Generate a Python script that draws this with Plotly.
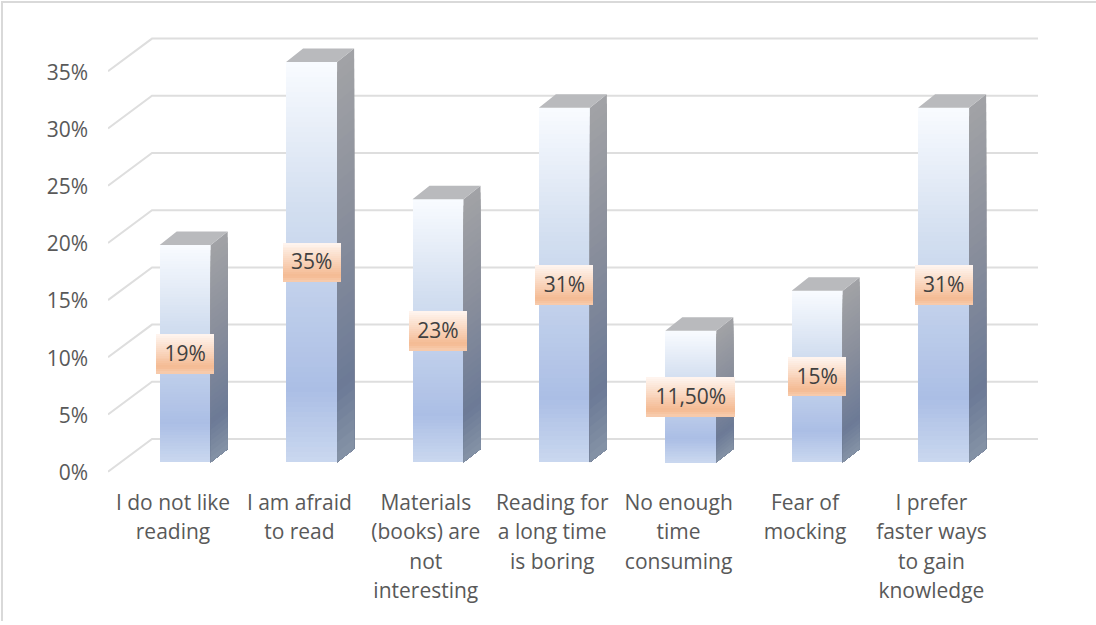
import plotly.graph_objects as go

categories = ["I do not like reading", "I am afraid to read", "Materials (books) are not interesting",
              "Reading for a long time is boring", "No enough time consuming", "Fear of mocking",
              "I prefer faster ways to gain knowledge"]
wrapped = [["I do not like", "reading"], ["I am afraid", "to read"],
           ["Materials", "(books) are", "not", "interesting"],
           ["Reading for", "a long time", "is boring"], ["No enough", "time", "consuming"],
           ["Fear of", "mocking"], ["I prefer", "faster ways", "to gain", "knowledge"]]
values = [19, 35, 23, 31, 11.5, 15, 31]
value_labels = ["19%", "35%", "23%", "31%", "11,50%", "15%", "31%"]
y_ticks = [0, 5, 10, 15, 20, 25, 30, 35]

W, H = 1096, 625
PX_CAT, PX_PCT = 126.4, 11.44
X0, Y_WALL, Y_BAR = 173.0, 471.7, 462.3
L, R, T, B = 108, 1040, 30, 480
x_of = lambda px: (px - X0) / PX_CAT
bar_shift = (185.2 - X0) / PX_CAT
bar_w = 51 / PX_CAT
dx, dy = 17 / PX_CAT, 13.4 / PX_PCT
N_FRONT, N_SIDE = 80, 40

FRONT = [(0, (249, 251, 255)), (.36, (211, 223, 240)), (.82, (171, 190, 229)), (1, (202, 216, 239))]
SIDE = [(0, (162, 163, 166)), (.4, (138, 143, 156)), (.82, (108, 122, 150)), (1, (133, 147, 166))]
LABEL = [(0, (255, 246, 241)), (.85, (244, 186, 146)), (1, (248, 205, 176))]


def grad(stops, f):
    for (a, ca), (b, cb) in zip(stops, stops[1:]):
        if f <= b:
            t = (f - a) / (b - a)
            return "rgb(%d,%d,%d)" % tuple(round(p + (q - p) * t) for p, q in zip(ca, cb))
    return "rgb(%d,%d,%d)" % stops[-1][1]


fig = go.Figure()

gx, gy = [], []
for t in y_ticks:
    gx += [x_of(108), x_of(152), x_of(1038), None]
    gy += [t, t + (Y_WALL - 439) / PX_PCT, t + (Y_WALL - 439) / PX_PCT, None]
fig.add_trace(go.Scatter(x=gx, y=gy, mode="lines", line=dict(color="#dedede", width=2), hoverinfo="skip",
                         showlegend=False, yaxis="y"))

fx, fh, fc = [], [], []
for i, v in enumerate(values):
    for k in range(N_FRONT):
        fx.append(i + bar_shift)
        fh.append(v * (N_FRONT - k) / N_FRONT)
        fc.append(grad(FRONT, (k + .5) / N_FRONT))
fig.add_trace(go.Bar(x=fx, y=fh, width=bar_w, marker=dict(color=fc, line=dict(width=0)),
                     hoverinfo="skip", showlegend=False, yaxis="y2"))

for i, v in enumerate(values):
    xr = i + bar_shift + bar_w / 2
    for k in range(N_SIDE):
        hi = v * (N_SIDE - k) / N_SIDE
        c = grad(SIDE, (k + .5) / N_SIDE)
        fig.add_trace(go.Scatter(x=[xr, xr + dx, xr + dx, xr, xr], y=[0, dy, hi + dy, hi, 0], mode="lines",
                                 fill="toself", fillcolor=c, line=dict(width=0), hoverinfo="skip",
                                 showlegend=False, yaxis="y2"))

tx, ty = [], []
for i, v in enumerate(values):
    xl, xr = i + bar_shift - bar_w / 2, i + bar_shift + bar_w / 2
    tx += [xl, xl + dx, xr + dx, xr, xl, None]
    ty += [v, v + dy, v + dy, v, v, None]
fig.add_trace(go.Scatter(x=tx, y=ty, mode="lines", fill="toself", fillcolor="#b9babd", line=dict(width=0),
                         hoverinfo="skip", showlegend=False, yaxis="y2"))

box_h = 39 / PX_PCT
M = 20
lx, lbase, lh, lw, lc = [], [], [], [], []
for i, (v, s) in enumerate(zip(values, value_labels)):
    for k in range(M):
        lx.append(i + bar_shift)
        lbase.append(v / 2 + box_h / 2 - box_h * (k + 1) / M)
        lh.append(box_h / M)
        lw.append((89 if len(s) > 3 else 58) / PX_CAT)
        lc.append(grad(LABEL, (k + .5) / M))
fig.add_trace(go.Bar(x=lx, y=lh, base=lbase, width=lw, marker=dict(color=lc, line=dict(width=0)),
                     hoverinfo="skip", showlegend=False, yaxis="y3"))
text_nudge = 2 / PX_PCT
fig.add_trace(go.Scatter(x=[i + bar_shift for i in range(len(values))], y=[v / 2 - text_nudge for v in values],
                         mode="text", text=value_labels, textposition="middle center",
                         textfont=dict(family="Open Sans", size=21, color="#404040"),
                         hoverinfo="skip", showlegend=False, yaxis="y3"))

ticktext = ["<br>".join('<span style="font-size:21px">%s</span>' % s for s in lines) for lines in wrapped]
y_range_main = [(Y_WALL - B) / PX_PCT, (Y_WALL - T) / PX_PCT]
y_range_bar = [(Y_BAR - B) / PX_PCT, (Y_BAR - T) / PX_PCT]
hidden = dict(overlaying="y", domain=[(H - B) / H, (H - T) / H], range=y_range_bar, visible=False, fixedrange=True)

fig.update_layout(
    width=W, height=H, margin=dict(l=0, r=0, t=0, b=0), autosize=False,
    paper_bgcolor="white", plot_bgcolor="rgba(0,0,0,0)", barmode="overlay", bargap=0, showlegend=False,
    font=dict(family="Open Sans", color="#595959"),
    xaxis=dict(domain=[L / W, R / W], range=[x_of(L), x_of(R)], tickmode="array", automargin=False,
               tickvals=list(range(len(categories))), ticktext=ticktext, showgrid=False, zeroline=False,
               showline=False, ticks="", tickangle=0, tickfont=dict(family="Open Sans", size=22.7, color="#595959"),
               ticklabelstandoff=6, fixedrange=True),
    yaxis=dict(domain=[(H - B) / H, (H - T) / H], range=y_range_main, tickmode="array", tickvals=y_ticks,
               automargin=False, ticktext=["%d%%" % t for t in y_ticks], showgrid=False, zeroline=False,
               showline=False, ticks="", tickfont=dict(family="Open Sans", size=21, color="#595959"),
               ticklabelstandoff=19, ticklabelshift=1, fixedrange=True),
    yaxis2=hidden, yaxis3=hidden,
    shapes=[
        dict(type="line", xref="paper", yref="paper", x0=2 / W, x1=2 / W, y0=(H - 621) / H, y1=(H - 1) / H,
             line=dict(color="#d9d9d9", width=2)),
        dict(type="line", xref="paper", yref="paper", x0=1 / W, x1=1, y0=(H - 2) / H, y1=(H - 2) / H,
             line=dict(color="#d9d9d9", width=2)),
    ],
)
fig.write_html("out.html", post_script="document.body.style.margin='0';", config={"displayModeBar": False})
